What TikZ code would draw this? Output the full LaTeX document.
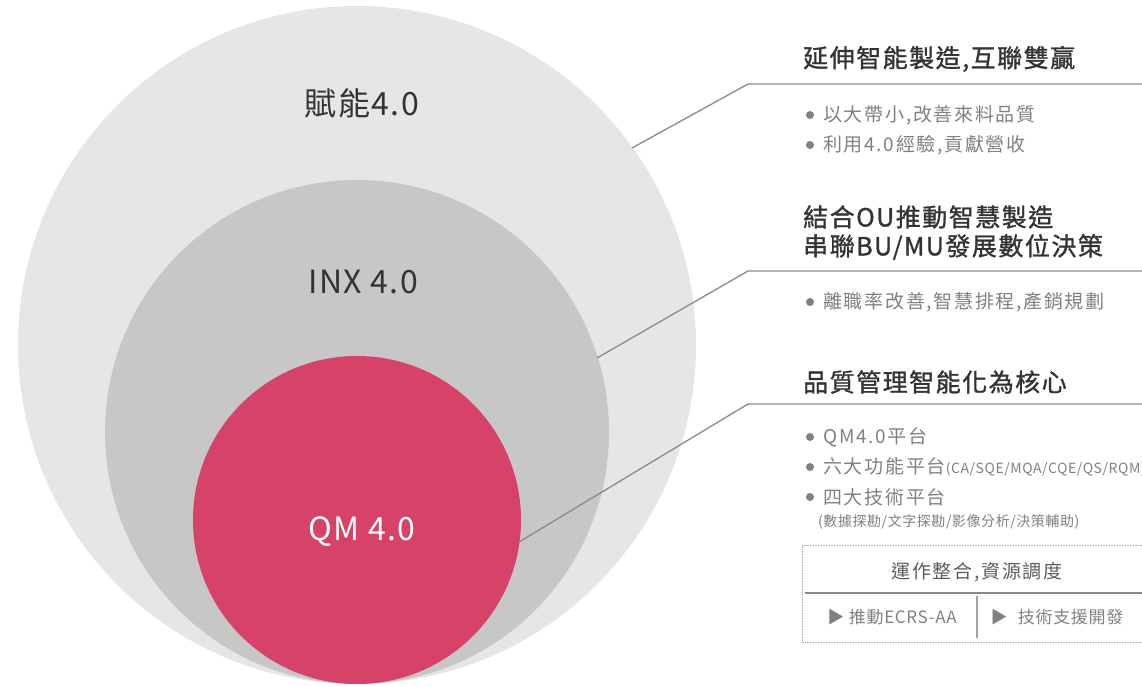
\documentclass[tikz,border=0pt]{standalone}
\usepackage{fontspec}
\setmainfont{Noto Sans CJK TC}
\newfontfamily\headfont{Noto Sans CJK TC}[FakeBold=1.2, LetterSpace=6]
\newfontfamily\itemfont{Noto Sans CJK TC}[LetterSpace=9]
\newfontfamily\smallfont{Noto Sans CJK TC}[LetterSpace=4]
\newfontfamily\labelfont{Noto Sans CJK TC}[LetterSpace=4.5]
\usetikzlibrary{calc}
\definecolor{outerc}{HTML}{E6E6E6}
\definecolor{midc}{HTML}{C6C7C6}
\definecolor{redc}{HTML}{D64268}
\definecolor{headc}{HTML}{333333}
\definecolor{bodyc}{HTML}{808080}
\definecolor{linec}{HTML}{8A8A8A}
\tikzset{
  circlabel/.style={font=\labelfont\fontsize{32}{32}\selectfont, text=headc, inner sep=0pt},
  heading/.style={font=\headfont\fontsize{25}{30}\selectfont, text=headc, anchor=west, inner sep=0pt},
  item/.style={font=\itemfont\fontsize{19}{20}\selectfont, text=bodyc, anchor=west, inner sep=0pt},
  small/.style={font=\smallfont\fontsize{14}{15}\selectfont, text=bodyc, anchor=west, inner sep=0pt},
  dotc/.style={fill=bodyc},
  leader/.style={draw=linec, line width=1.3pt},
}
\begin{document}
\begin{tikzpicture}[x=1pt,y=-1pt]
\useasboundingbox (0,0) rectangle (1142,687);
% circles
\fill[outerc] (357,345) circle (339);
\fill[midc] (357,432) circle (252);
\fill[redc] (357,520) circle (164);
\node[circlabel] (l1) at (362,103) {賦能4.0};
\node[circlabel] (l2) at (363,282) {INX 4.0};
\node[circlabel, text=white] (l3) at (362,532) {QM 4.0};
% leader lines
\coordinate (s1) at (632,148);
\coordinate (b1) at (748,84);
\coordinate (e1) at (1143,84);
\coordinate (s2) at (597,358);
\coordinate (b2) at (748,271);
\coordinate (e2) at (1143,271);
\coordinate (s3) at (519,542);
\coordinate (b3) at (748,404);
\coordinate (e3) at (1143,404);
\draw[leader] (s1) -- (b1) -- (e1);
\draw[leader] (s2) -- (b2) -- (e2);
\draw[leader] (s3) -- (b3) -- (e3);
% block 1
\node[heading] (h1) at (803,59) {延伸智能製造,互聯雙贏};
\fill[dotc] (810,115) circle (4);
\node[item] (i11) at (823,115) {以大帶小,改善來料品質};
\fill[dotc] (810,145) circle (4);
\node[item] (i12) at (823,145) {利用4.0經驗,貢獻營收};
% block 2
\node[heading] (h2a) at (803,217) {結合OU推動智慧製造};
\node[heading] (h2b) at (803,247) {串聯BU/MU發展數位決策};
\fill[dotc] (810,302) circle (4);
\node[item] (i21) at (823,302) {離職率改善,智慧排程,產銷規劃};
% block 3
\node[heading] (h3) at (803,382) {品質管理智能化為核心};
\fill[dotc] (810,437) circle (4);
\node[item] (i31) at (823,437) {QM4.0平台};
\fill[dotc] (810,467) circle (4);
\node[item] (i32) at (823,467) {六大功能平台{\smallfont\fontsize{14}{15}\selectfont(CA/SQE/MQA/CQE/QS/RQM)}};
\fill[dotc] (810,497) circle (4);
\node[item] (i33) at (823,497) {四大技術平台};
\node[small] (i34) at (818,522) {(數據探勘/文字探勘/影像分析/決策輔助)};
% box
\coordinate (bx1) at (1150,545);
\coordinate (bx2) at (802,545);
\coordinate (bx3) at (802,642);
\coordinate (bx4) at (1150,642);
\draw[draw=linec!70, line width=0.8pt, dash pattern=on 0.8pt off 0.8pt] (bx1) -- (bx2) -- (bx3) -- (bx4);
\coordinate (r1) at (805,593);
\coordinate (r2) at (1143,593);
\draw[draw=linec, line width=1.2pt] (r1) -- (r2);
\coordinate (v1) at (977,596);
\coordinate (v2) at (977,638);
\draw[draw=linec!80, line width=1.5pt] (v1) -- (v2);
\node[item, anchor=center, text=headc!80] (bt) at (977,572) {運作整合,資源調度};
\node[item, anchor=center, font=\smallfont\fontsize{17}{18}\selectfont] (bl) at (892,617) {▶ 推動ECRS-AA};
\node[item, anchor=center, font=\smallfont\fontsize{17}{18}\selectfont] (br) at (1057,617) {▶\hspace{0.6em}技術支援開發};
\end{tikzpicture}
\end{document}
